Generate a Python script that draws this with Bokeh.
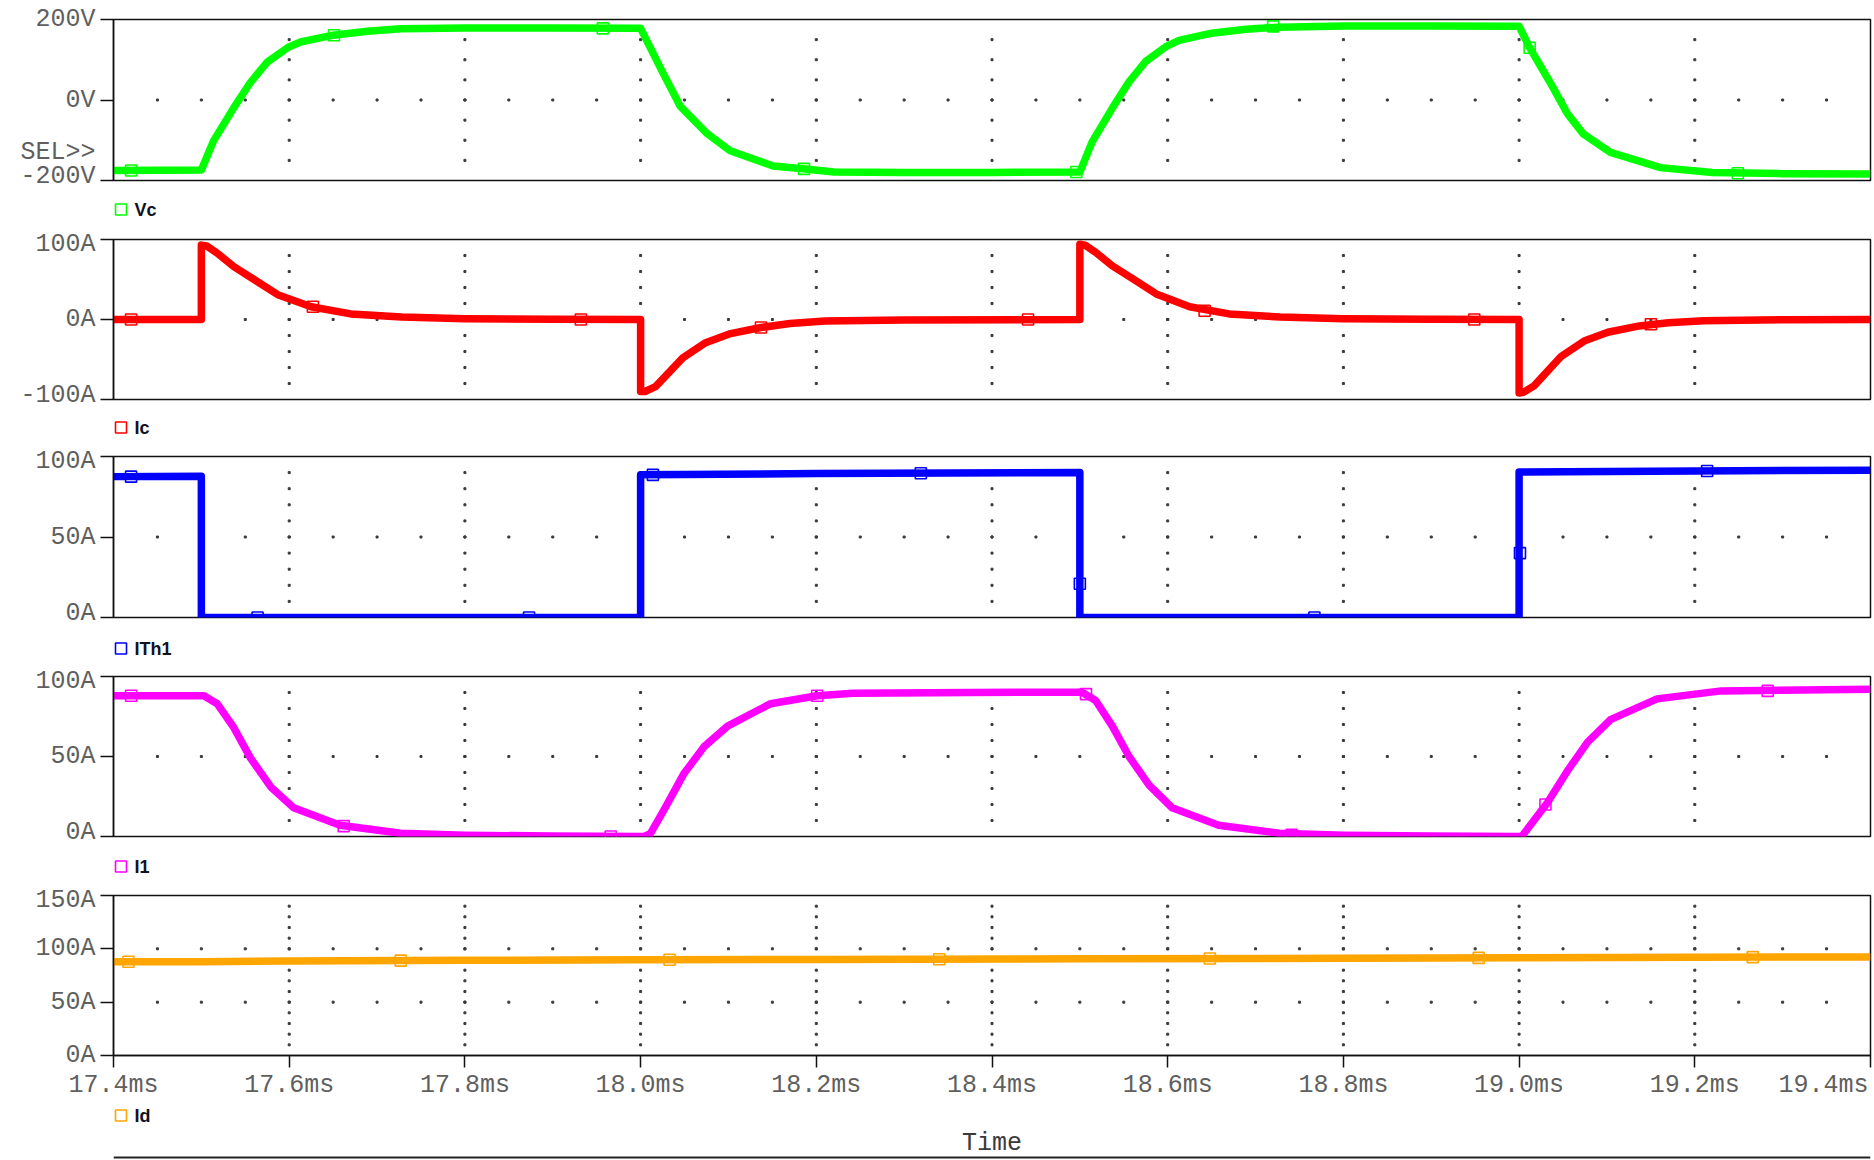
import numpy as np
from bokeh.plotting import figure
from bokeh.models import (Range1d, FixedTicker, LinearAxis, PrintfTickFormatter)
from bokeh.layouts import column
from bokeh.embed import file_html
from bokeh.resources import INLINE
from bokeh.core.properties import value

# ---------------- data (time in ms) ----------------
x_ticks = [17.4, 17.6, 17.8, 18.0, 18.2, 18.4, 18.6, 18.8, 19.0, 19.2, 19.4]

vc_t = [17.40, 17.50, 17.514, 17.537, 17.556, 17.575, 17.599, 17.613, 17.650, 17.689, 17.727, 17.80, 17.90, 18.00,
        18.026, 18.045, 18.076, 18.102, 18.151, 18.185, 18.220, 18.30, 18.40, 18.50,
        18.514, 18.537, 18.556, 18.575, 18.599, 18.613, 18.650, 18.689, 18.727, 18.80, 18.90, 19.00,
        19.012, 19.036, 19.055, 19.073, 19.104, 19.161, 19.220, 19.30, 19.40]
vc_v = [-175, -174, -101, -19, 44, 94, 131, 144, 161, 171, 177, 179, 179, 178,
        65, -15, -84, -126, -164, -171, -179, -180, -180, -179,
        -104, -20, 45, 96, 134, 148, 166, 176, 181, 184, 184, 183,
        130, 41, -34, -84, -130, -168, -180, -183, -184]
vc_mt = [17.420, 17.651, 17.957, 18.186, 18.496, 18.720, 19.012, 19.249]
vc_mv = [-175, 161, 178, -171, -179, 183, 130, -182]

ic_t = [17.40, 17.50, 17.50, 17.506, 17.518, 17.537, 17.560, 17.587, 17.625, 17.670, 17.728, 17.80, 17.90, 18.00,
        18.00, 18.005, 18.017, 18.048, 18.074, 18.101, 18.137, 18.170, 18.210, 18.30, 18.50,
        18.50, 18.506, 18.518, 18.537, 18.560, 18.587, 18.625, 18.670, 18.728, 18.80, 18.90, 19.00,
        19.00, 19.005, 19.017, 19.048, 19.074, 19.101, 19.137, 19.170, 19.210, 19.30, 19.40]
ic_v = [0, 0, 93, 92, 83, 66, 50, 31, 16, 7, 3, 1, 0.3, 0,
        -90, -90, -84, -48, -29, -18, -10, -5, -2, -0.5, 0,
        94, 93, 84, 67, 51, 32, 16, 7, 3, 1, 0.3, 0,
        -92, -91, -83, -46, -27, -16, -8, -4, -1.5, -0.4, 0]
ic_mt = [17.420, 17.627, 17.932, 18.137, 18.441, 18.642, 18.949, 19.150]
ic_mv = [0, 16, 0, -10, 0, 11, 0, -6]

th_t = [17.40, 17.50, 17.50, 18.00, 18.00, 18.20, 18.50, 18.50, 19.00, 19.00, 19.20, 19.40]
th_v = [87.5, 87.8, 0, 0, 88.6, 89.4, 90.0, 0, 0, 90.4, 91.0, 91.5]
th_mt = [17.420, 17.564, 17.873, 18.014, 18.319, 18.500, 18.767, 19.001, 19.214]
th_mv = [87.5, 0, 0, 88.6, 89.6, 21, 0, 40, 91]

i1_t = [17.40, 17.50, 17.503, 17.518, 17.537, 17.556, 17.579, 17.605, 17.658, 17.727, 17.80, 17.90, 18.00,
        18.004, 18.011, 18.026, 18.049, 18.072, 18.099, 18.148, 18.201, 18.242, 18.376, 18.50,
        18.503, 18.518, 18.537, 18.556, 18.579, 18.605, 18.658, 18.727, 18.80, 18.90, 19.00,
        19.003, 19.032, 19.055, 19.078, 19.104, 19.157, 19.230, 19.40]
i1_v = [88, 88, 88, 83, 68, 49, 31, 18, 7, 2, 0.8, 0.3, 0,
        0, 1.7, 16, 39, 56, 69, 83, 88, 89.5, 90, 90.2,
        90, 85, 69, 50, 32, 18, 7, 2, 0.8, 0.3, 0,
        0, 21, 41, 59, 73, 86, 91, 92]
i1_mt = [17.420, 17.662, 17.966, 18.201, 18.507, 18.741, 19.030, 19.283]
i1_mv = [88, 6.5, 0, 88, 89, 1, 20, 91]

id_t = [17.40, 17.50, 17.60, 17.80, 18.00, 18.20, 18.50, 18.80, 19.00, 19.20, 19.40]
id_v = [87.8, 88.0, 88.6, 89.2, 89.7, 90.0, 90.6, 91.2, 91.6, 92.1, 92.4]
id_mt = [17.417, 17.727, 18.033, 18.340, 18.648, 18.954, 19.266]
id_mv = [87.9, 88.9, 89.8, 90.3, 91.0, 91.5, 92.2]

# ---------------- styling ----------------
W = 1874
LB = 113          # left border (frame starts here)
RB = 4            # right border
FW = W - LB - RB  # frame width in px
TICK_FONT = "Liberation Mono"
TICK_COLOR = "#5f5f5f"
AX = "#111111"
xr = Range1d(17.4, 19.4)


def style_axis(a, tick_out):
    a.major_tick_out = tick_out
    a.major_tick_in = 0
    a.minor_tick_line_color = None
    a.axis_line_color = AX
    a.axis_line_width = 1.5
    a.major_tick_line_color = AX
    a.major_tick_line_width = 1.5
    a.major_label_text_font = TICK_FONT
    a.major_label_text_font_size = "25px"
    a.major_label_text_color = TICK_COLOR


def panel(height, top, bottom, y_lo, y_hi, y_ticks, unit, v_step, h_rows,
          t, v, mt, mv, color, last=False, sel=False):
    p = figure(width=W, height=height, x_range=xr, y_range=Range1d(y_lo, y_hi),
               output_backend="svg", toolbar_location=None,
               x_axis_location="below" if last else None,
               min_border_left=LB, min_border_right=RB,
               min_border_top=top, min_border_bottom=bottom)
    p.grid.visible = False
    p.background_fill_color = "white"
    p.border_fill_color = "white"
    p.outline_line_color = AX
    p.outline_line_width = 1.5

    ya = p.yaxis[0]
    ya.ticker = FixedTicker(ticks=y_ticks)
    style_axis(ya, 13)
    if sel:
        # inner axis: tick marks only; outer axis carries the labels (incl. "SEL>>")
        ya.major_label_overrides = {tk: "" for tk in y_ticks}
        ya.major_label_standoff = 0
        sel_ticks = sorted(y_ticks + [-130])
        outer = LinearAxis(ticker=FixedTicker(ticks=sel_ticks),
                           formatter=PrintfTickFormatter(format="%d" + unit))
        style_axis(outer, 0)
        outer.axis_line_color = None
        outer.major_tick_line_color = None
        outer.major_label_standoff = 5
        outer.major_label_overrides = {-130: "SEL>>"}
        p.add_layout(outer, "left")
    else:
        ya.formatter = PrintfTickFormatter(format="%d" + unit)
        ya.major_label_standoff = 5

    if last:
        xa = p.xaxis[0]
        xa.ticker = FixedTicker(ticks=x_ticks)
        xa.formatter = PrintfTickFormatter(format="%.1fms")
        xa.major_label_overrides = {19.4: ""}   # drawn right-aligned in the strip below
        style_axis(xa, 12)
        xa.major_label_standoff = 3

    # dotted grid (PSpice style)
    gx, gy = [], []
    for xt in x_ticks[1:-1]:
        for yv in np.arange(y_lo + v_step, y_hi - v_step / 2, v_step):
            gx.append(xt)
            gy.append(yv)
    for yr in h_rows:
        for xv in np.arange(17.45, 19.39, 0.05):
            gx.append(xv)
            gy.append(yr)
    p.scatter(gx, gy, marker="square", size=2, color="#3a3a3a")

    p.line(t, v, line_color=color, line_width=7.5, line_join="round")
    p.scatter(mt, mv, marker="square", size=11, fill_color=None,
              line_color=color, line_width=1.6)
    return p


def strip(height, margin_top=0):
    # a thin strip in pixel units (x from the frame's left edge, y from the strip top)
    s = figure(width=W, height=height, x_range=Range1d(0, FW), y_range=Range1d(height, 0),
               output_backend="svg", toolbar_location=None,
               x_axis_location=None, y_axis_location=None,
               min_border_left=LB, min_border_right=RB,
               min_border_top=0, min_border_bottom=0,
               margin=(margin_top, 0, 0, 0))
    s.grid.visible = False
    s.outline_line_color = None
    s.background_fill_color = None
    s.border_fill_color = None
    return s


def add_legend(s, yc, name, color):
    s.scatter([7.5], [yc], marker="square", size=11, fill_color=None,
              line_color=color, line_width=1.6)
    s.text([21], [yc], text=[name], text_font=value("Liberation Sans"),
           text_font_style="bold", text_font_size=value("18px"),
           text_color="#111122", text_baseline="middle", text_align="left")


p1 = panel(190, 19, 10, -200, 200, [-200, 0, 200], "V", 50, [0],
           vc_t, vc_v, vc_mt, vc_mv, "#00FF00", sel=True)
l1 = strip(39)
add_legend(l1, 19, "Vc", "#00FF00")
p2 = panel(180, 10, 10, -100, 100, [-100, 0, 100], "A", 20, [0],
           ic_t, ic_v, ic_mt, ic_mv, "#FF0000")
l2 = strip(37)
add_legend(l2, 18, "Ic", "#FF0000")
p3 = panel(181, 10, 10, 0, 100, [0, 50, 100], "A", 10, [50],
           th_t, th_v, th_mt, th_mv, "#0000FF")
l3 = strip(39)
add_legend(l3, 21, "ITh1", "#0000FF")
p4 = panel(180, 10, 10, 0, 100, [0, 50, 100], "A", 10, [50],
           i1_t, i1_v, i1_mt, i1_mv, "#FF00FF")
l4 = strip(39)
add_legend(l4, 20, "I1", "#FF00FF")
p5 = panel(217, 10, 46, 0, 150, [0, 50, 100, 150], "A", 10, [50, 100],
           id_t, id_v, id_mt, id_mv, "#FFA500", last=True)

# bottom strip overlaps the tick-label row of the last panel (transparent)
l5 = strip(88, margin_top=-30)
l5.text([FW - 2], [13], text=["19.4ms"], text_font=value(TICK_FONT),
        text_font_size=value("25px"), text_color=TICK_COLOR,
        text_baseline="middle", text_align="right")
add_legend(l5, 43, "Id", "#FFA500")
l5.text([FW / 2], [71], text=["Time"], text_font=value(TICK_FONT),
        text_font_size=value("25px"), text_color="#3a3a3a",
        text_baseline="middle", text_align="center")
l5.line([0, FW], [85, 85], line_color="#222222", line_width=2)

layout = column(p1, l1, p2, l2, p3, l3, p4, l4, p5, l5, spacing=0)
open("out.html", "w").write(file_html(layout, INLINE))
